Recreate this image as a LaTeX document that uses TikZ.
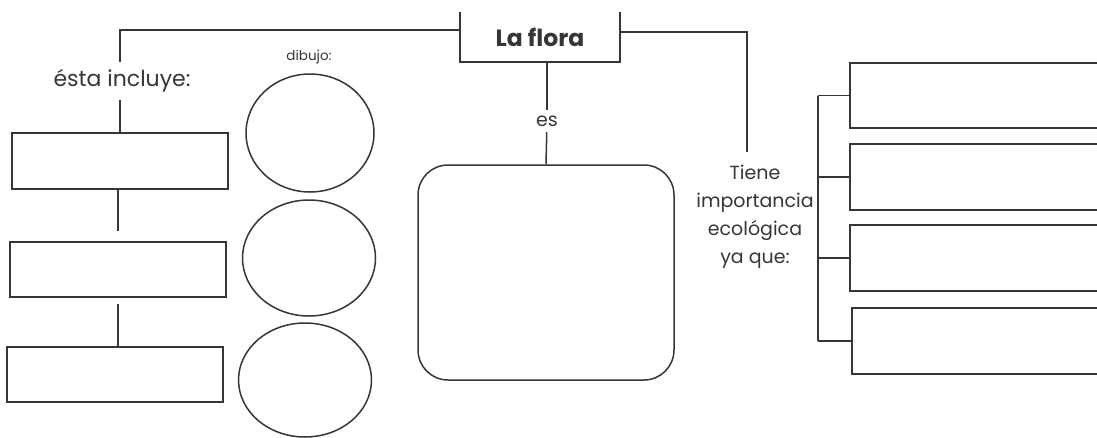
\documentclass[tikz,border=0pt]{standalone}
\usepackage{fontspec}
\setmainfont{Poppins}
\usetikzlibrary{shapes.geometric}
\definecolor{ink}{HTML}{363636}
\tikzset{
  line/.style={draw=ink, line width=1.5pt},
  blank/.style={line, rectangle, inner sep=0pt},
  drawing/.style={line, ellipse, inner sep=0pt},
  word/.style={text=ink, inner sep=1pt, font=\fontsize{19}{28}\selectfont},
}
\begin{document}
\begin{tikzpicture}[x=1pt,y=-1pt]
\clip (0,0) rectangle (1097,437);
\fill[white] (0,0) rectangle (1097,437);

% centre
\node[word, font=\bfseries\fontsize{23.5}{26}\selectfont, minimum width=160pt, minimum height=50pt] (flora) at (540,37) {La flora};
\draw[line] (flora.north west) -- (flora.south west) -- (flora.south east) -- (flora.north east);
\node[word, minimum height=22pt] (es) at (547,121) {es};
\node[blank, rounded corners=30pt, minimum width=256pt, minimum height=215pt] (def) at (546,272.5) {};
\draw[line] (es.north |- flora.south) -- (es.north);
\draw[line] (es) -- (def.north);

% left
\node[word, font=\fontsize{22}{26}\selectfont, minimum height=38pt] (incl) at (122,81) {ésta incluye:};
\draw[line] ([xshift=-2pt]incl.north) |- ([yshift=7pt]flora.west);
\node[blank, minimum width=216pt, minimum height=56pt] (b1) at (120,161) {};
\node[blank, minimum width=216pt, minimum height=55pt] (b2) at (118,269.5) {};
\node[blank, minimum width=216pt, minimum height=55pt] (b3) at (115,374.5) {};
\draw[line] (b1.north) -- (b1.north |- incl.south);
\draw[line, shorten <=10pt] (b2.north) -- (b2.north |- b1.south);
\draw[line, shorten <=6pt] (b2.south) -- (b2.south |- b3.north);

% dibujos
\node[word, font=\fontsize{13.5}{15}\selectfont] (dib) at (309,57) {dibujo:};
\node[drawing, minimum width=128pt, minimum height=118pt] (e1) at (310,133) {};
\node[drawing, minimum width=133pt, minimum height=116pt] (e2) at (309,258) {};
\node[drawing, minimum width=133pt, minimum height=114pt] (e3) at (305,380) {};

% right
\node[word, align=center, inner sep=13pt] (imp) at (755,217) {Tiene\\importancia\\ecológica\\ya que:};
\draw[line] ([yshift=5pt]flora.east) -| ([xshift=-8pt]imp.north);
\node[blank, minimum width=270pt, minimum height=65pt] (r1) at (985,95.5) {};
\node[blank, minimum width=270pt, minimum height=66pt] (r2) at (985,177) {};
\node[blank, minimum width=270pt, minimum height=66pt] (r3) at (985,258) {};
\node[blank, minimum width=266pt, minimum height=66pt] (r4) at (985,341) {};
\coordinate (spine) at (818,0);
\draw[line] (r1.west -| spine) -- (r4.west -| spine);
\foreach \b in {r1,r2,r3,r4}
  \draw[line] (\b.west) -- (\b.west -| spine);
\end{tikzpicture}
\end{document}
